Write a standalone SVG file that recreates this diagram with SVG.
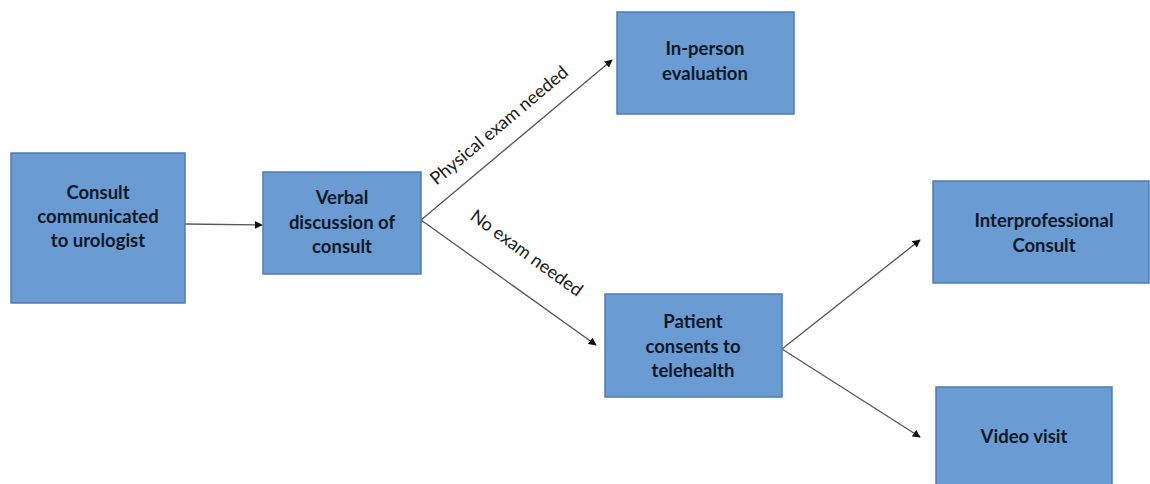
<svg xmlns="http://www.w3.org/2000/svg" width="1150" height="484" viewBox="0 0 1150 484">
<style>
.box{fill:#6a9bd2;stroke:#4f7cb3;stroke-width:1.5}
.t{font-family:Lato,"Open Sans","Liberation Sans",sans-serif;font-weight:bold;font-size:18.5px;fill:#0f1828;text-anchor:middle}
.lbl{font-family:Lato,"Open Sans","Liberation Sans",sans-serif;font-size:18px;fill:#1a1a1a;text-anchor:middle}
.c{stroke:#555;stroke-width:1.3;fill:none;marker-end:url(#ah)}
</style>
<defs>
<marker id="ah" viewBox="0 0 10 10" refX="9" refY="5" markerWidth="8" markerHeight="8" markerUnits="userSpaceOnUse" orient="auto">
<path d="M0,0 L10,5 L0,10 z" fill="#111"/>
</marker>
</defs>
<rect width="1150" height="484" fill="#fff"/>
<g id="connectors">
<line class="c" x1="185" y1="224" x2="262" y2="225"/>
<line class="c" x1="421" y1="220" x2="612" y2="60"/>
<line class="c" x1="421" y1="220" x2="596" y2="345"/>
<line class="c" x1="782" y1="349" x2="920" y2="240"/>
<line class="c" x1="782" y1="349" x2="920" y2="437"/>
<text class="lbl" transform="translate(503,130) rotate(-40)">Physical exam needed</text>
<text class="lbl" transform="translate(523,258) rotate(36)">No exam needed</text>
</g>
<g id="consult">
<rect class="box" x="11" y="153" width="174" height="150"/>
<text class="t" x="98" y="199">Consult</text>
<text class="t" x="98" y="223">communicated</text>
<text class="t" x="98" y="247">to urologist</text>
</g>
<g id="verbal">
<rect class="box" x="263" y="172" width="158" height="102"/>
<text class="t" x="342" y="204">Verbal</text>
<text class="t" x="342" y="229">discussion of</text>
<text class="t" x="342" y="253">consult</text>
</g>
<g id="inperson">
<rect class="box" x="617" y="12" width="177" height="102"/>
<text class="t" x="705" y="55">In-person</text>
<text class="t" x="705" y="80">evaluation</text>
</g>
<g id="patient">
<rect class="box" x="605" y="294" width="177" height="103"/>
<text class="t" x="693" y="328">Patient</text>
<text class="t" x="693" y="353">consents to</text>
<text class="t" x="693" y="377">telehealth</text>
</g>
<g id="interprof">
<rect class="box" x="933" y="181" width="216" height="102"/>
<text class="t" x="1044" y="227">Interprofessional</text>
<text class="t" x="1044" y="252">Consult</text>
</g>
<g id="video">
<rect class="box" x="936" y="387" width="176" height="110"/>
<text class="t" x="1024" y="443">Video visit</text>
</g>
</svg>
